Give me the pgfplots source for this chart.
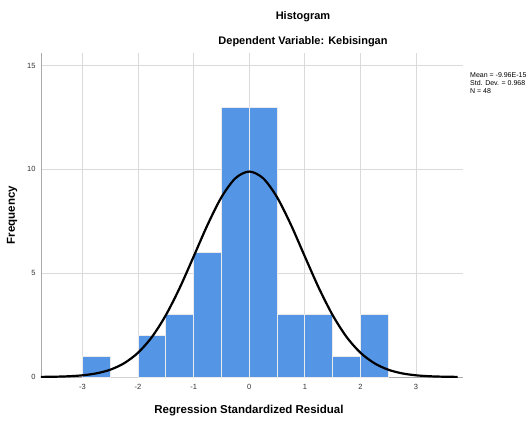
\documentclass[border=0pt]{standalone}
\usepackage{pgfplots}
\pgfplotsset{compat=1.18}
\usepackage{fontspec}
\setmainfont{Liberation Sans}
\definecolor{barblue}{RGB}{84,150,229}
\definecolor{gridgray}{RGB}{218,218,218}
\definecolor{axgray}{RGB}{170,170,170}
\begin{document}
\begin{tikzpicture}
\path[use as bounding box] (0,0) rectangle (532pt,421pt);
\begin{axis}[
  at={(41pt,44pt)}, anchor=south west,
  scale only axis, width=422pt, height=324pt,
  xmin=-3.746, xmax=3.845, ymin=0, ymax=15.6,
  axis x line=bottom, axis y line=left,
  axis line style={axgray,-, line width=0.8pt},
  xtick={-3,-2,-1,0,1,2,3}, ytick={0,5,10,15},
  grid=major, grid style={gridgray, line width=0.8pt},
  major tick length=0pt,
  tick label style={font=\fontsize{7.5}{9}\selectfont, text=black!80},
  /pgf/number format/assume math mode=true,
  xticklabel style={yshift=-4pt},
  yticklabel style={xshift=-2pt},
  clip=false,
]
\addplot[ybar interval, fill=barblue, draw=white!92!black, line width=0.8pt] coordinates {
(-3,1) (-2.5,0) (-2,2) (-1.5,3) (-1,6) (-0.5,13) (0,13) (0.5,3) (1,3) (1.5,1) (2,3) (2.5,3)};
\addplot[black, line width=2.2pt, smooth] coordinates {
(-3.75,0.00545) (-3.5,0.0143) (-3.25,0.0353) (-3,0.0812) (-2.75,0.175) (-2.5,0.352)
(-2.25,0.664) (-2,1.170) (-1.75,1.930) (-1.5,2.978) (-1.25,4.297) (-1,5.802)
(-0.75,7.327) (-0.5,8.657) (-0.25,9.568) (0,9.892) (0.25,9.568) (0.5,8.657)
(0.75,7.327) (1,5.802) (1.25,4.297) (1.5,2.978) (1.75,1.930) (2,1.170)
(2.25,0.664) (2.5,0.352) (2.75,0.175) (3,0.0812) (3.25,0.0353) (3.5,0.0143) (3.75,0.00545)};
\end{axis}
\node[font=\bfseries\fontsize{11}{13}\selectfont] at (303pt,404pt) {Histogram};
\node[font=\bfseries\fontsize{11}{13}\selectfont] at (303pt,379pt) {Dependent Variable: Kebisingan};
\node[font=\bfseries\fontsize{11.5}{13}\selectfont] at (249pt,10pt) {Regression Standardized Residual};
\node[font=\bfseries\fontsize{11.5}{13}\selectfont, rotate=90] at (12pt,206pt) {Frequency};
\node[anchor=north west, align=left, font=\fontsize{7}{8.3}\selectfont, inner sep=0pt] at (470pt,349pt) {Mean = -9.96E-15\\Std. Dev. = 0.968\\N = 48};
\end{tikzpicture}
\end{document}
